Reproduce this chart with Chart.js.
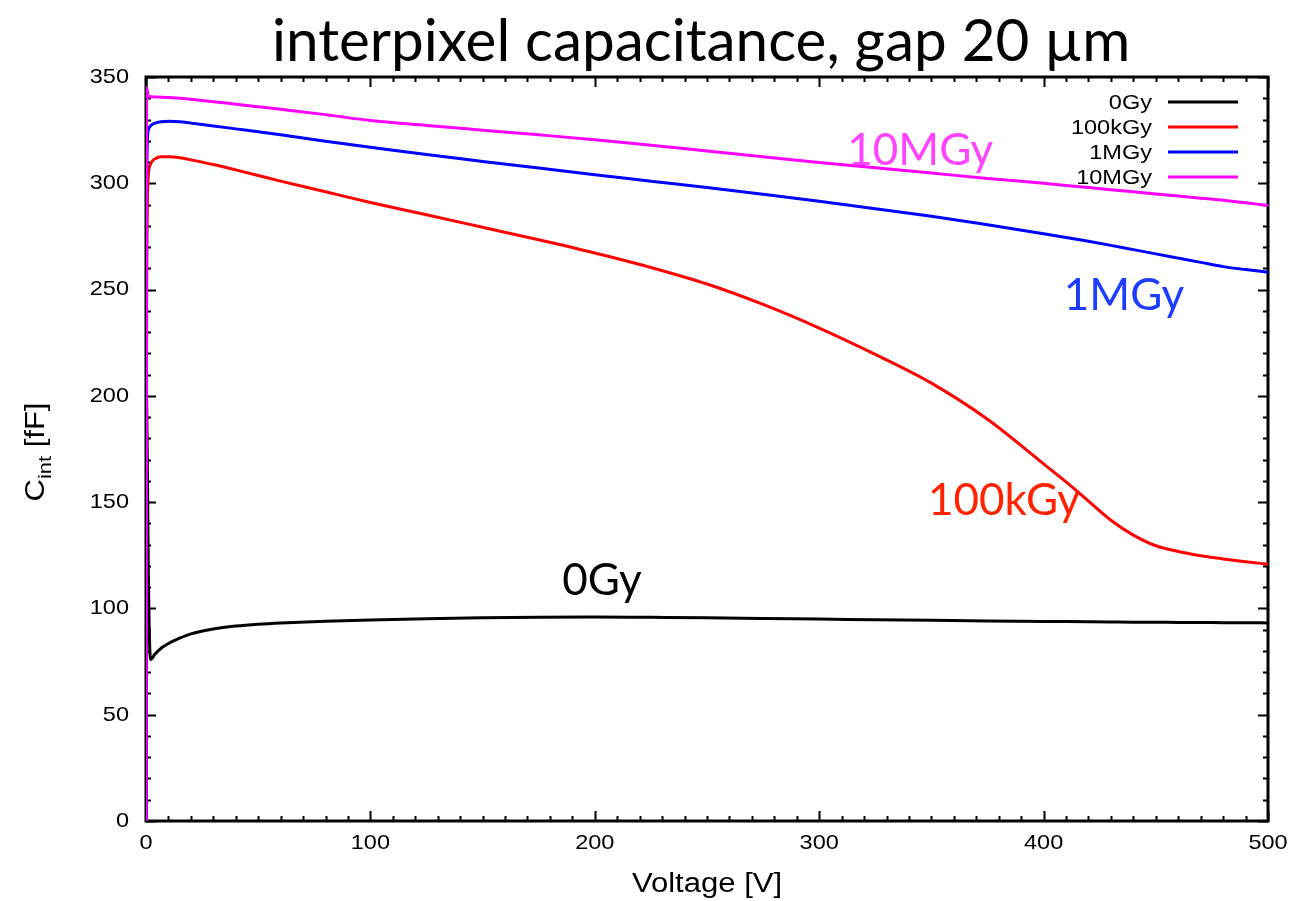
<!DOCTYPE html>
<html>
<head>
<meta charset="utf-8">
<script src="https://cdn.jsdelivr.net/npm/chart.js@4.4.0/dist/chart.umd.min.js"></script>
<style>
  body { margin: 0; background: #fff; }
</style>
</head>
<body>
<canvas id="myChart" width="1310" height="901"></canvas>
<script>
// bias voltage sweep [V], shared by all four curves
var voltage = [0, 0.3, 1, 2, 4, 7, 10, 15, 20, 30, 40, 50, 60, 80, 100, 125, 150, 175, 200, 225, 250, 275, 300, 325, 350, 375, 400, 410, 420, 430, 440, 450, 460, 470, 480, 490, 500];

// interpixel capacitance [fF] per dose
var c0Gy    = [0, 198, 120, 76, 78.5, 81.5, 83.5, 86, 88, 90.3, 91.7, 92.6, 93.2, 94, 94.6, 95.2, 95.6, 95.9, 96, 95.8, 95.6, 95.3, 95, 94.7, 94.4, 94.1, 93.9, 93.8, 93.7, 93.6, 93.5, 93.5, 93.4, 93.4, 93.3, 93.3, 93.2];
var c100kGy = [0, 250, 303, 309, 311.5, 312.5, 312.5, 312, 311, 308.8, 306.3, 303.7, 301, 296, 291, 285.2, 279.3, 273.4, 267.2, 260.4, 252.6, 243, 231.9, 219.5, 206, 189, 168, 159.5, 150.5, 141.5, 134.5, 129.5, 126.8, 124.8, 123.3, 122, 120.8];
var c1MGy   = [0, 300, 325, 327, 328.3, 329, 329.2, 329, 328.3, 327, 325.6, 324.2, 322.8, 319.8, 317, 313.5, 310.3, 307.2, 304, 301, 298, 294.8, 291.5, 288, 284.5, 280.5, 276.3, 274.5, 272.7, 270.8, 268.8, 266.8, 264.8, 262.8, 260.8, 259.4, 258.2];
var c10MGy  = [0, 345, 341, 340.7, 340.6, 340.5, 340.3, 340, 339.5, 338.4, 337.2, 336, 334.8, 332.3, 329.5, 327.2, 325, 322.8, 320.5, 317.9, 315.2, 312.5, 309.8, 307.3, 304.8, 302.3, 300, 299, 298, 297, 296, 295, 294, 293, 292, 290.8, 289.6];

var seriesNames  = ["0Gy", "100kGy", "1MGy", "10MGy"];
var seriesValues = [c0Gy, c100kGy, c1MGy, c10MGy];
var seriesColors = ["#000000", "#ff0000", "#0000ff", "#ff00ff"];

var xTickStep = 100, xMinorStep = 10;
var yTickStep = 50, yMinorStep = 10;

// in-plot curve labels, anchored in data coordinates (left edge, baseline)
var curveLabels = [
  { text: "10MGy",  v: 312.5, c: 308.5, color: "#ff44ff" },
  { text: "1MGy",   v: 409,   c: 240.5, color: "#1c3cff" },
  { text: "100kGy", v: 348.5, c: 144,   color: "#ff2200" },
  { text: "0Gy",    v: 185.5, c: 106.5, color: "#000000" }
];

var datasets = seriesNames.map(function (name, i) {
  return {
    label: name,
    data: voltage.map(function (v, j) { return { x: v, y: seriesValues[i][j] }; }),
    borderColor: seriesColors[i],
    backgroundColor: seriesColors[i],
    borderWidth: 3,
    pointRadius: 0,
    cubicInterpolationMode: "monotone",
    fill: false,
    order: seriesNames.length - 1 - i   // later series painted on top
  };
});

var sansFont = "'Liberation Sans', Arial, sans-serif";
var stretch = 1.12;

// text drawn a bit wider than the font's own proportions
function wideText(ctx, text, x, y, sx, align) {
  var w = ctx.measureText(text).width * sx;
  if (align === "right") x -= w;
  else if (align === "center") x -= w / 2;
  ctx.save();
  ctx.translate(x, y);
  ctx.scale(sx, 1);
  ctx.textAlign = "left";
  ctx.fillText(text, 0, 0);
  ctx.restore();
}

var frame = {
  id: "frame",
  // box and ticks go under the curves
  beforeDatasetsDraw: function (chart) {
    var ctx = chart.ctx, a = chart.chartArea;
    var xs = chart.scales.x, ys = chart.scales.y;
    ctx.save();
    ctx.strokeStyle = "#000";
    ctx.lineWidth = 2;
    // inward ticks on all four sides
    for (var v = xs.min; v <= xs.max; v += xMinorStep) {
      var px = Math.round(xs.getPixelForValue(v)) + 0.5;
      var len = (v % xTickStep === 0) ? 10 : 5;
      ctx.beginPath();
      ctx.moveTo(px, a.bottom); ctx.lineTo(px, a.bottom - len);
      ctx.moveTo(px, a.top); ctx.lineTo(px, a.top + len);
      ctx.stroke();
    }
    for (var c = ys.min; c <= ys.max; c += yMinorStep) {
      var py = Math.round(ys.getPixelForValue(c)) + 0.5;
      var l2 = (c % yTickStep === 0) ? 10 : 5;
      ctx.beginPath();
      ctx.moveTo(a.left, py); ctx.lineTo(a.left + l2, py);
      ctx.moveTo(a.right, py); ctx.lineTo(a.right - l2, py);
      ctx.stroke();
    }
    ctx.lineWidth = 3;
    ctx.strokeRect(a.left, a.top, a.right - a.left, a.bottom - a.top);

    // tick labels from the scales' own tick lists
    ctx.fillStyle = "#000";
    ctx.font = "21px " + sansFont;
    ctx.textBaseline = "middle";
    xs.ticks.forEach(function (t) {
      wideText(ctx, String(t.value), xs.getPixelForValue(t.value), 843, stretch, "center");
    });
    ys.ticks.forEach(function (t) {
      wideText(ctx, String(t.value), 129, ys.getPixelForValue(t.value), stretch, "right");
    });
    ctx.restore();
  },
  afterDraw: function (chart) {
    var ctx = chart.ctx, a = chart.chartArea;
    var xs = chart.scales.x, ys = chart.scales.y;
    ctx.save();

    // title, sized to span the plot heading width
    var title = "interpixel capacitance, gap 20 \u00b5m";
    ctx.fillStyle = "#000";
    ctx.font = "50px Lato, 'Open Sans', sans-serif";
    var w = ctx.measureText(title).width;
    var size = 50 * 858 / w;
    ctx.font = size.toFixed(1) + "px Lato, 'Open Sans', sans-serif";
    ctx.textAlign = "left";
    ctx.textBaseline = "alphabetic";
    ctx.fillText(title, 272, 61);

    // x axis title
    ctx.font = "27px " + sansFont;
    wideText(ctx, "Voltage [V]", (a.left + a.right) / 2, 892, 1.15, "center");

    // y axis title with subscript, rotated
    ctx.translate(44, 452);
    ctx.rotate(-Math.PI / 2);
    ctx.scale(1.15, 1);
    ctx.textAlign = "left";
    var big = "27px " + sansFont;
    var sub = "19px " + sansFont;
    ctx.font = big;
    var wC = ctx.measureText("C").width;
    ctx.font = sub;
    var wSub = ctx.measureText("int").width;
    ctx.font = big;
    var wRest = ctx.measureText(" [fF]").width;
    var x0 = -(wC + wSub + wRest) / 2;
    ctx.fillText("C", x0, 0);
    ctx.font = sub;
    ctx.fillText("int", x0 + wC, 7);
    ctx.font = big;
    ctx.fillText(" [fF]", x0 + wC + wSub, 0);
    ctx.setTransform(1, 0, 0, 1, 0, 0);

    // legend: label text right-aligned, line sample to its right
    ctx.font = "21px " + sansFont;
    ctx.textBaseline = "middle";
    chart.data.datasets.forEach(function (ds, i) {
      var y = 102 + i * 25;
      ctx.fillStyle = "#000";
      wideText(ctx, ds.label, 1152, y + 1, stretch, "right");
      ctx.strokeStyle = ds.borderColor;
      ctx.lineWidth = 3;
      ctx.beginPath();
      ctx.moveTo(1168, y); ctx.lineTo(1238, y);
      ctx.stroke();
    });

    // labels next to each curve
    ctx.font = "44px Lato, 'Open Sans', sans-serif";
    ctx.textAlign = "left";
    ctx.textBaseline = "alphabetic";
    curveLabels.forEach(function (lb) {
      ctx.fillStyle = lb.color;
      ctx.fillText(lb.text, xs.getPixelForValue(lb.v), ys.getPixelForValue(lb.c));
    });
    ctx.restore();
  }
};

var ctx = document.getElementById("myChart").getContext("2d");
var chart = new Chart(ctx, {
  type: "line",
  data: { datasets: datasets },
  options: {
    responsive: false,
    animation: false,
    layout: { padding: { top: 77, right: 42, left: 0, bottom: 0 } },
    plugins: {
      legend: { display: false },
      tooltip: { enabled: false }
    },
    scales: {
      x: {
        type: "linear",
        min: 0,
        max: 500,
        grid: { display: false, drawTicks: false },
        border: { display: false },
        ticks: { stepSize: xTickStep, display: false },
        afterFit: function (s) { s.height = 80; }
      },
      y: {
        min: 0,
        max: 350,
        grid: { display: false, drawTicks: false },
        border: { display: false },
        ticks: { stepSize: yTickStep, display: false },
        afterFit: function (s) { s.width = 146; }
      }
    }
  },
  plugins: [frame]
});
</script>
</body>
</html>
